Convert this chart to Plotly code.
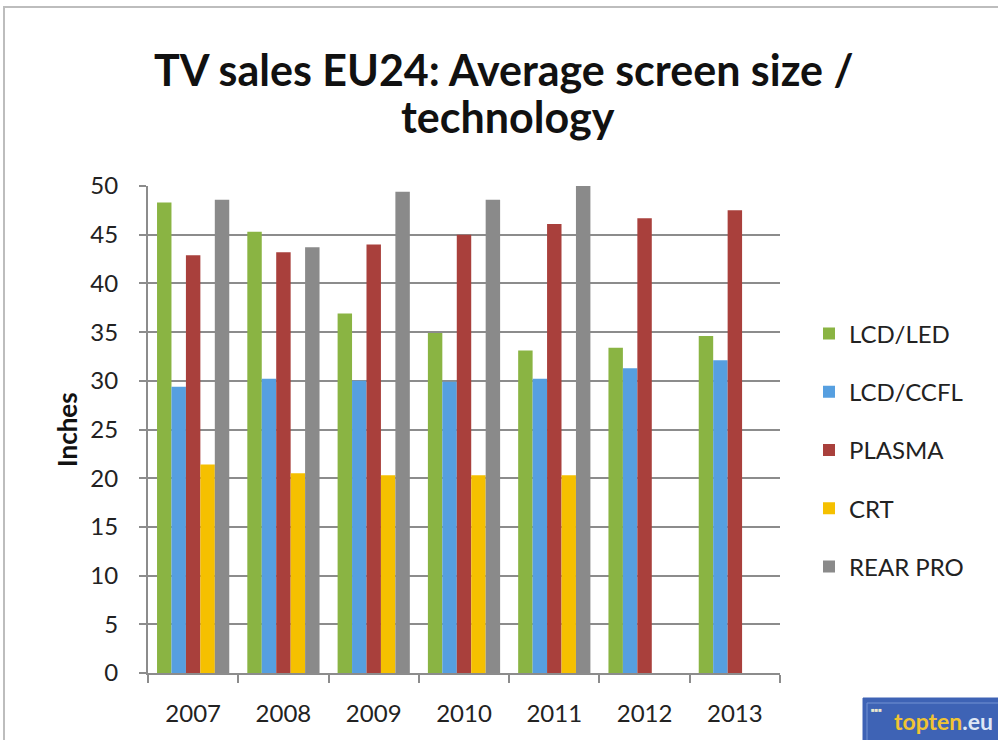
import plotly.graph_objects as go

years = ["2007", "2008", "2009", "2010", "2011", "2012", "2013"]
lcd_led = [48.3, 45.3, 36.9, 34.9, 33.1, 33.4, 34.6]
lcd_ccfl = [29.4, 30.2, 30.0, 29.9, 30.2, 31.3, 32.1]
plasma = [42.9, 43.2, 44.0, 45.0, 46.1, 46.7, 47.5]
crt = [21.4, 20.5, 20.3, 20.3, 20.3, None, None]
rear_pro = [48.6, 43.7, 49.4, 48.6, 50.0, None, None]

series = [
    ("LCD/LED", lcd_led, "#8ab443"),
    ("LCD/CCFL", lcd_ccfl, "#569fe0"),
    ("PLASMA", plasma, "#a9403c"),
    ("CRT", crt, "#f5c000"),
    ("REAR PRO", rear_pro, "#8a8a8a"),
]

FONT = "Lato, 'Open Sans', sans-serif"
# plot area in page pixels (page body margin removed below)
L, T, R, B = 148, 186, 780, 673
W, H = R - L, B - T


def px(x):
    return (x - L) / W


def py(y):
    return (B - y) / H


fig = go.Figure()
for name, vals, col in series:
    fig.add_trace(go.Bar(x=years, y=vals, name=name, marker_color=col,
                         marker_line_width=0, legendgroup=name))

fig.update_layout(
    width=998, height=740,
    paper_bgcolor="white", plot_bgcolor="white",
    margin=dict(l=L, r=998 - R, t=T, b=740 - B),
    barmode="group", bargap=0.2, bargroupgap=0,
    font=dict(family=FONT, size=24, color="#222222"),
    legend=dict(x=px(809), xanchor="left", y=py(450), yanchor="middle",
                font=dict(family=FONT, size=24, color="#222222"),
                tracegroupgap=24, bgcolor="rgba(0,0,0,0)"),
    showlegend=True,
)

fig.update_xaxes(type="category", showline=True, linecolor="#8c8c8c", linewidth=2,
                 ticks="outside", tickson="boundaries", ticklen=8, tickwidth=2,
                 tickcolor="#8c8c8c", showgrid=False, ticklabelstandoff=18,
                 tickfont=dict(family=FONT, size=24, color="#222222"))
fig.update_yaxes(range=[0, 50], dtick=5, showline=True, linecolor="#8c8c8c", linewidth=2,
                 ticks="outside", ticklen=7, tickwidth=2, tickcolor="#8c8c8c",
                 showgrid=True, gridcolor="#8c8c8c", gridwidth=2, zeroline=False,
                 ticklabelstandoff=16,
                 tickfont=dict(family=FONT, size=24, color="#222222"))

# title (two lines placed separately for tight line spacing)
fig.add_annotation(xref="paper", yref="paper", x=px(504), y=py(69),
                   xanchor="center", yanchor="middle", showarrow=False,
                   text="<b>TV sales EU24: Average screen size /</b>",
                   font=dict(family=FONT, size=43, color="#111111"))
fig.add_annotation(xref="paper", yref="paper", x=px(508), y=py(117),
                   xanchor="center", yanchor="middle", showarrow=False,
                   text="<b>technology</b>",
                   font=dict(family=FONT, size=43, color="#111111"))

# y axis title
fig.add_annotation(xref="paper", yref="paper", x=px(67), y=py(430),
                   xanchor="center", yanchor="middle", showarrow=False, textangle=-90,
                   text="<b>Inches</b>",
                   font=dict(family=FONT, size=26, color="#111111"))

# outer chart frame
fig.add_shape(type="rect", xref="paper", yref="paper",
              x0=px(4), x1=px(1010), y0=py(760), y1=py(7),
              line=dict(color="#bdbdbd", width=2), layer="below")

# topten.eu logo
fig.add_shape(type="rect", xref="paper", yref="paper",
              x0=px(863), x1=px(1010), y0=py(760), y1=py(698),
              fillcolor="#3e63b5", line=dict(color="#3e63b5", width=1))
fig.add_shape(type="rect", xref="paper", yref="paper",
              x0=px(867), x1=px(1010), y0=py(753), y1=py(703),
              fillcolor="rgba(0,0,0,0)", line=dict(color="#7393d3", width=1))
fig.add_annotation(xref="paper", yref="paper", x=px(995), y=py(721),
                   xanchor="right", yanchor="middle", showarrow=False,
                   text="<b><span style='color:#f0c433'>topten</span><span style='color:#dfe7f5'>.eu</span></b>",
                   font=dict(family=FONT, size=23))
fig.add_annotation(xref="paper", yref="paper", x=px(869), y=py(709),
                   xanchor="left", yanchor="middle", showarrow=False,
                   text="<span style='color:#e8e8d0'>■■■</span>",
                   font=dict(family=FONT, size=6))

fig.write_html(
    "out.html",
    config={"displayModeBar": False},
    post_script="document.body.style.margin='0';"
                "document.documentElement.style.overflow='hidden';"
                "document.body.style.overflow='hidden';",
)
